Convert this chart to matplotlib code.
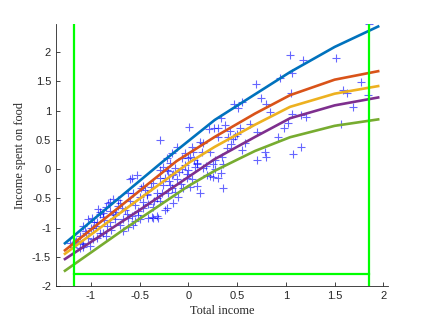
import numpy as np
import matplotlib
matplotlib.use('Agg')
import matplotlib.pyplot as plt

# scatter points (total income, income spent on food)
income = [1.85, 1.04, 1.18, 1.51, 0.94, 1.06, 0.69, 0.74, 1.77, 1.05, 1.59, 1.63, 1.84, 1.69,
          0.80, 0.84, 1.06, 1.16, 1.21, 1.02, 0.98, 1.57, 0.70, 0.92, 1.16, 1.07, 0.79, 0.80, 0.70,
          0.47, 0.55, 0.51, 0.33, 0.63, 0.53, 0.38, 0.30, 0.26, 0.21, 0.43, 0.46, 0.41, 0.44, 0.48,
          0.58, 0.55, 0.40, 0.34, 0.30, 0.50, 0.36, 0.27, 0.33, 0.30, 0.36, 0.27, 0.25, 0.19, 0.12,
          0.09, 0.04, 0.15, 0.09, 0.25, 0.02, 0.22,
          0.01, 0.12, 0.15, 0.04, 0.14, 0.05, 0.09, 0.07, 0.02, 0.22,
          -0.29, -0.12, -0.03, -0.06, -0.17, -0.22, -0.19, -0.26, -0.22, -0.14, -0.03, 0.00, -0.29,
          0.00, -0.21, -0.16, -0.06, -0.01, -0.12, -0.08, -0.17, -0.21, -0.16, -0.22, -0.32, -0.36,
          -0.31, -0.29, -0.32, -0.36, -0.29, -0.24, -0.17, -0.01, -0.05, -0.14, -0.11, -0.27, -0.32,
          -0.24, -0.19, -0.37,
          -0.58, -0.53, -0.60, -0.57, -0.49, -0.46, -0.42, -0.41, -0.46, -0.52, -0.50, -0.55, -0.57,
          -0.62, -0.47, -0.55, -0.36, -0.52, -0.62, -0.41, -0.62, -0.42,
          -1.03, -0.99, -0.91, -0.80, -0.82, -0.77, -0.72, -0.93, -0.88, -0.67, -0.63, -0.68, -0.77,
          -0.75, -0.67, -0.84, -0.91, -0.94, -0.98, -1.03, -1.06, -1.08, -1.11, -1.15, -1.21, -1.01,
          -1.08, -0.94, -0.88, -0.80, -0.75, -0.98, -0.88, -0.79, -1.09, -1.08, -1.11, -1.16, -1.18,
          -0.80, -0.91, -0.70, -0.74, -0.84,
          -1.00, -0.95, -0.86, -0.72, -0.60, -0.44, -0.38, -0.26, -0.10, 0.06, 0.18, -0.70, -0.65,
          -0.50, -0.35, -0.20, -1.05, -0.97, -0.83, -0.58]
food = [2.48, 1.96, 1.87, 1.90, 1.55, 1.64, 1.46, 1.22, 1.49, 1.30, 1.36, 1.31, 1.27, 1.06,
        1.12, 0.97, 0.95, 0.93, 0.89, 0.79, 0.70, 0.77, 0.63, 0.55, 0.38, 0.25, 0.29, 0.21, 0.15,
        1.11, 1.14, 1.04, 0.88, 0.77, 0.70, 0.75, 0.70, 0.70, 0.69, 0.66, 0.51, 0.55, 0.43, 0.56,
        0.44, 0.32, 0.36, 0.21, 0.55, 0.60, 0.08, 0.15, -0.07, -0.15, -0.32, 0.00, -0.14, -0.10, -0.41,
        -0.29, -0.17, 0.02, 0.09, 0.09, -0.31, -0.12,
        0.72, 0.46, 0.44, 0.38, 0.29, 0.29, 0.10, 0.03, 0.21, 0.30,
        0.50, 0.38, 0.27, 0.19, 0.27, 0.19, 0.10, 0.03, -0.02, 0.02, 0.07, -0.02, -0.02,
        0.19, -0.03, -0.09, 0.00, -0.09, -0.17, -0.26, -0.32, -0.41, -0.58, -0.67, -0.80, -0.84,
        -0.84, -0.55, -0.41, -0.24, -0.15, -0.15, -0.10, -0.15, -0.32, -0.39, -0.48, -0.41, -0.50,
        -0.70, -0.27, -0.82,
        -0.15, -0.10, -0.17, -0.41, -0.32, -0.29, -0.43, -0.60, -0.67, -0.72, -0.85, -0.89, -0.95,
        -0.41, -0.56, -0.62, -0.65, -0.79, -0.84, -0.84, -0.99, -0.44,
        -0.85, -0.84, -0.77, -0.72, -0.58, -0.51, -0.53, -0.68, -0.75, -0.85, -0.77, -0.67, -0.77,
        -0.85, -1.06, -1.15, -1.09, -1.18, -1.20, -1.18, -1.06, -0.97, -1.15, -1.23, -1.26, -1.32,
        -1.29, -0.91, -0.82, -0.91, -0.79, -1.01, -1.09, -1.04, -1.26, -1.33, -1.35, -1.25, -1.33,
        -0.56, -0.74, -0.58, -0.74, -0.65,
        -1.00, -0.97, -0.88, -0.64, -0.55, -0.36, -0.30, -0.28, -0.05, 0.15, 0.05, -0.95, -0.70,
        -0.47, -0.55, -0.20, -1.10, -0.90, -0.98, -0.80]

# quantile curves, points
blue_x = [-1.265, -0.8, -0.256, 0.27, 0.684, 1.043, 1.5, 1.946]
blue_y = [-1.27, -0.62, 0.137, 0.84, 1.28, 1.66, 2.09, 2.44]
orange_x = [-1.265, -0.7, -0.12, 0.27, 0.684, 1.043, 1.5, 1.946]
orange_y = [-1.39, -0.64, 0.137, 0.55, 0.95, 1.265, 1.53, 1.675]
yellow_x = [-1.265, -0.6, 0.017, 0.27, 0.684, 1.043, 1.5, 1.946]
yellow_y = [-1.45, -0.63, 0.12, 0.38, 0.76, 1.065, 1.29, 1.42]
purple_x = [-1.265, -0.49, 0.27, 0.684, 1.043, 1.5, 1.946]
purple_y = [-1.54, -0.69, 0.17, 0.55, 0.87, 1.09, 1.225]
green_x = [-1.265, -0.65, 0.0, 0.27, 0.5, 0.684, 1.043, 1.5, 1.946]
green_y = [-1.74, -1.02, -0.29, -0.03, 0.16, 0.31, 0.545, 0.74, 0.85]

green_left = -1.175
green_right = 1.856
green_bottom = -1.795

plt.rcParams['font.family'] = ['Liberation Sans', 'DejaVu Sans']
fig = plt.figure(figsize=(4.29, 3.22), dpi=100)
ax = fig.add_axes([0.1305, 0.112, 0.7735, 0.813])

ax.plot(income, food, '+', color=(0, 0, 1), alpha=0.6, markersize=6, markeredgewidth=0.8)

ax.plot(blue_x, blue_y, color='#0072BD', lw=1.9)
ax.plot(orange_x, orange_y, color='#D95319', lw=1.9)
ax.plot(yellow_x, yellow_y, color='#EDB120', lw=1.9)
ax.plot(purple_x, purple_y, color='#7E2F8E', lw=1.9)
ax.plot(green_x, green_y, color='#77AC30', lw=1.9)

ax.axvline(green_left, color=(0, 1, 0), lw=1.6)
ax.axvline(green_right, color=(0, 1, 0), lw=1.6)
ax.plot([green_left, green_right], [green_bottom, green_bottom], color=(0, 1, 0), lw=1.6)

ax.set_xlim(-1.357, 2.045)
ax.set_ylim(-2, 2.48)
ax.set_xticks([-1, -0.5, 0, 0.5, 1, 1.5, 2])
ax.set_xticklabels(['-1', '-0.5', '0', '0.5', '1', '1.5', '2'])
ax.set_yticks([-2, -1.5, -1, -0.5, 0, 0.5, 1, 1.5, 2])
ax.set_yticklabels(['-2', '-1.5', '-1', '-0.5', '0', '0.5', '1', '1.5', '2'])

for s in ['top', 'right']:
    ax.spines[s].set_visible(False)
for s in ['left', 'bottom']:
    ax.spines[s].set_color('#262626')
    ax.spines[s].set_linewidth(0.6)
ax.tick_params(direction='in', length=3, width=0.6, colors='#262626', labelsize=8)

ax.set_xlabel('Total income', family='Liberation Serif', fontsize=8.8, color='#262626', labelpad=3)
ax.set_ylabel('Income spent on food', family='Liberation Serif', fontsize=8.8, color='#262626', labelpad=4)

fig.savefig('out.png', dpi=100)
